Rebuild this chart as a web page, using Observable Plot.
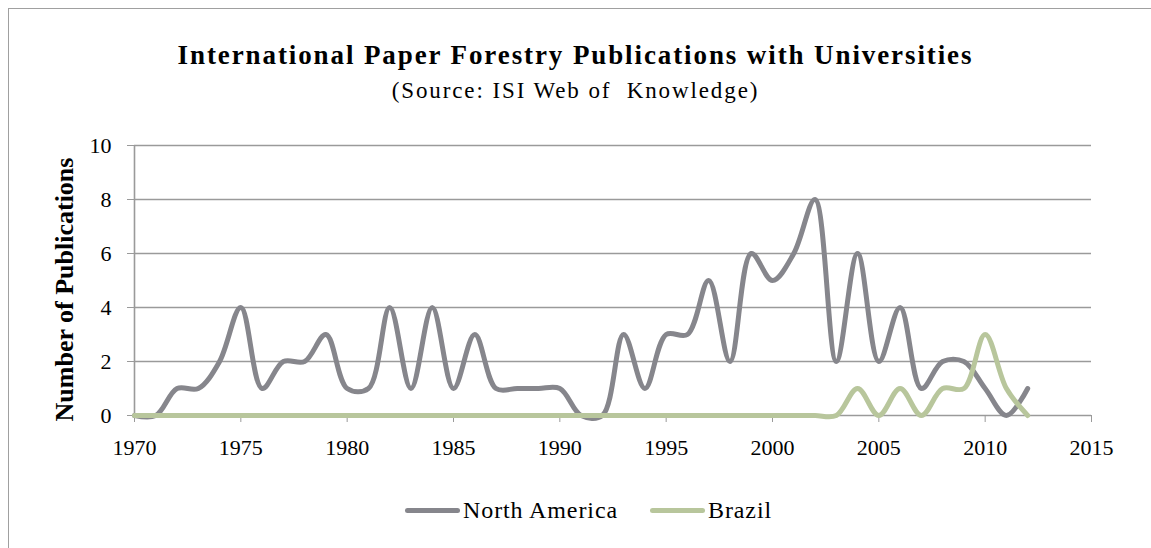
<!DOCTYPE html>
<html>
<head>
<meta charset="utf-8">
<script src="https://cdn.jsdelivr.net/npm/d3@7"></script>
<script src="https://cdn.jsdelivr.net/npm/@observablehq/plot@0.6"></script>
<style>
  html, body { margin: 0; padding: 0; background: #fff; }
  body { width: 1151px; height: 548px; overflow: hidden; position: relative; font-family: "Liberation Serif", serif; }
  #frame { position: absolute; left: 8px; top: 8px; width: 1160px; height: 560px; border: 1.5px solid #a0a0a0; box-sizing: border-box; }
  #title { position: absolute; left: 0; width: 1151px; top: 38px; line-height: 34px; text-align: center; font-weight: bold; font-size: 27px; letter-spacing: 1.9px; color: #000; }
  #subtitle { position: absolute; left: 0; width: 1151px; top: 76px; line-height: 30px; text-align: center; font-size: 23px; letter-spacing: 1.9px; color: #000; }
  #chart { position: absolute; left: 0; top: 100px; }
  #chart svg, #chart svg text { font-family: "Liberation Serif", serif !important; }
  #legend { position: absolute; top: 497px; left: 0; width: 1151px; font-size: 24px; line-height: 26px; letter-spacing: 0.9px; color: #000; }
  .item { position: absolute; display: flex; align-items: center; }
  .sw { width: 55px; height: 5px; border-radius: 3px; margin-right: 3px; }
</style>
</head>
<body>
<div id="frame"></div>
<div id="title">International Paper Forestry Publications with Universities</div>
<div id="subtitle">(Source: ISI Web of&nbsp; Knowledge)</div>
<div id="chart"></div>
<div id="legend">
  <div class="item" style="left:405px"><span class="sw" style="background:#86868c"></span>North America</div>
  <div class="item" style="left:650px"><span class="sw" style="background:#b8c69c"></span>Brazil</div>
</div>
<script>
const years = d3.range(1970, 2013);
const northAmerica = [0,0,1,1,2,4,1,2,2,3,1,1,4,1,4,1,3,1,1,1,1,0,0,3,1,3,3,5,2,6,5,6,8,2,6,2,4,1,2,2,1,0,1];
const brazil =       [0,0,0,0,0,0,0,0,0,0,0,0,0,0,0,0,0,0,0,0,0,0,0,0,0,0,0,0,0,0,0,0,0,0,1,0,1,0,1,1,3,1,0];
const xTicks = d3.range(1970, 2016, 5);
const yTicks = [0,2,4,6,8,10];

const na = years.map((y, i) => ({year: y, value: northAmerica[i]}));
const br = years.map((y, i) => ({year: y, value: brazil[i]}));

const chart = Plot.plot({
  width: 1151,
  height: 360,
  marginLeft: 134,
  marginRight: 60,
  marginTop: 45,
  marginBottom: 45,
  style: { fontFamily: "'Liberation Serif', serif", fontSize: "22px", color: "#000", background: "transparent", overflow: "visible" },
  x: { domain: [1970, 2015] },
  y: { domain: [0, 10] },
  marks: [
    Plot.gridY(yTicks, { stroke: "#9a9a9a", strokeOpacity: 1, strokeWidth: 1.6 }),
    Plot.ruleX([1970], { stroke: "#9a9a9a", strokeWidth: 1.6 }),
    Plot.axisY(yTicks, { tickSize: 7, stroke: "#9a9a9a", tickPadding: 16, label: null, fill: "#000", fontSize: 22 }),
    Plot.axisX(xTicks, { tickSize: 7, stroke: "#9a9a9a", tickPadding: 17, label: null, tickFormat: d => String(d), fill: "#000", fontSize: 22 }),
    Plot.line(na, { x: "year", y: "value", stroke: "#86868c", strokeWidth: 5, curve: "catmull-rom" }),
    Plot.line(br, { x: "year", y: "value", stroke: "#b8c69c", strokeWidth: 5, curve: "catmull-rom" }),
    Plot.text(["Number of Publications"], { frameAnchor: "left", dx: -70, dy: 9, rotate: -90, textAnchor: "middle", fontWeight: "bold", fontSize: 26, fill: "#000", style: "letter-spacing:1.4px" })
  ]
});
document.getElementById("chart").appendChild(chart);
</script>
</body>
</html>
